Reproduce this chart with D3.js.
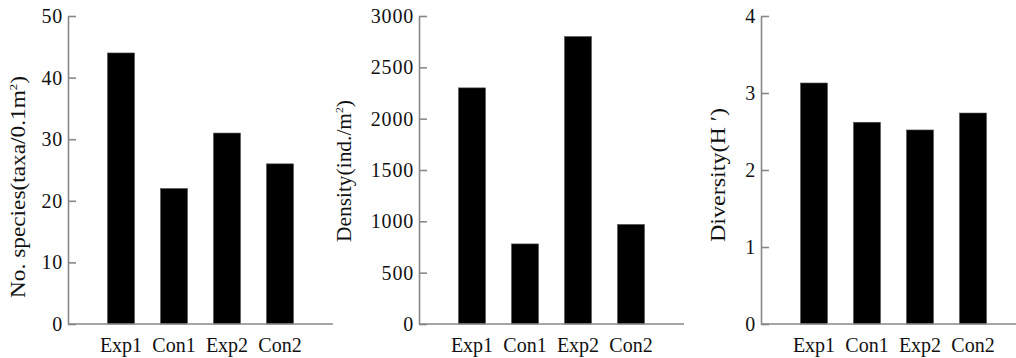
<!DOCTYPE html>
<html>
<head>
<meta charset="utf-8">
<script src="https://cdn.jsdelivr.net/npm/d3@7"></script>
<style>
  body { margin: 0; background: #fff; }
  svg { display: block; font-family: "Liberation Serif", "Times New Roman", serif; }
</style>
</head>
<body>
<div id="chart"></div>
<script>
// categories shared by all three panels
var categories = ["Exp1", "Con1", "Exp2", "Con2"];

// values
var speciesValues = [44, 22, 31, 26];
var densityValues = [2300, 780, 2800, 970];
var diversityValues = [3.13, 2.62, 2.52, 2.74];

// tick labels
var speciesTicks = [0, 10, 20, 30, 40, 50];
var densityTicks = [0, 500, 1000, 1500, 2000, 2500, 3000];
var diversityTicks = [0, 1, 2, 3, 4];

var W = 1016, H = 358;
var plotTop = 16, plotBottom = 324;
var fs = 20;

var svg = d3.select("#chart").append("svg")
  .attr("width", W).attr("height", H);

/**
 * one bar panel: axis at ax, baseline running to xend
 */
function panel(opts) {
  var g = svg.append("g");
  var ax = opts.ax;

  var y = d3.scaleLinear().domain([0, opts.max]).range([plotBottom, plotTop]);
  var x = d3.scaleBand().domain(categories)
    .range([ax + 26.5, ax + 238.5])
    .paddingInner(0.49).paddingOuter(0.245);

  // bars
  g.selectAll(".bar").data(opts.values).enter().append("rect")
    .attr("class", "bar")
    .attr("x", function(d, i) { return x(categories[i]); })
    .attr("width", x.bandwidth())
    .attr("y", function(d) { return y(d); })
    .attr("height", function(d) { return plotBottom - y(d); })
    .attr("fill", "#000")
    .attr("stroke", "#555").attr("stroke-width", 0.6);

  // y axis, ticks pointing inward
  var yaxis = d3.axisLeft(y).tickValues(opts.ticks)
    .tickSizeInner(-8).tickSizeOuter(0).tickPadding(5)
    .tickFormat(d3.format("d"));
  var ya = g.append("g").attr("transform", "translate(" + ax + ",0)").call(yaxis);
  ya.select(".domain").attr("stroke", "#888").attr("stroke-width", 1.6);
  ya.selectAll(".tick line").attr("stroke", "#888").attr("stroke-width", 1.6);
  ya.selectAll("text").attr("font-size", fs).attr("fill", "#111")
    .attr("font-family", "Liberation Serif").attr("letter-spacing", 0.8);

  // x baseline
  g.append("line")
    .attr("x1", ax).attr("x2", opts.xend)
    .attr("y1", plotBottom).attr("y2", plotBottom)
    .attr("stroke", "#888").attr("stroke-width", 1.6);

  // category labels
  var xaxis = d3.axisBottom(x).tickSize(0).tickPadding(13.5);
  var xa = g.append("g").attr("transform", "translate(0," + plotBottom + ")").call(xaxis);
  xa.select(".domain").remove();
  xa.selectAll("text").attr("font-size", fs).attr("fill", "#111")
    .attr("font-family", "Liberation Serif");

  // axis title, stretched to the length seen in the reference
  var t = g.append("text")
    .attr("transform", "translate(" + opts.tx + "," + opts.ty + ") rotate(-90)")
    .attr("text-anchor", "middle")
    .attr("font-size", fs).attr("fill", "#111")
    .attr("textLength", opts.tlen).attr("lengthAdjust", "spacingAndGlyphs");
  t.append("tspan").text(opts.title[0]);
  if (opts.title.length > 1) {
    t.append("tspan").text(opts.title[1])
      .attr("font-size", 11).attr("dy", -8);
    t.append("tspan").text(opts.title[2]).attr("dy", 8);
  }
}

panel({ ax: 68, xend: 333, max: 50, values: speciesValues, ticks: speciesTicks,
  tx: 25, ty: 187, tlen: 222, title: ["No. species(taxa/0.1m", "2", ")"] });
panel({ ax: 419, xend: 684, max: 3000, values: densityValues, ticks: densityTicks,
  tx: 351, ty: 171, tlen: 142, title: ["Density(ind./m", "2", ")"] });
panel({ ax: 761, xend: 1016, max: 4, values: diversityValues, ticks: diversityTicks,
  tx: 725, ty: 175, tlen: 134, title: ["Diversity(H \u2032)"] });
</script>
</body>
</html>
